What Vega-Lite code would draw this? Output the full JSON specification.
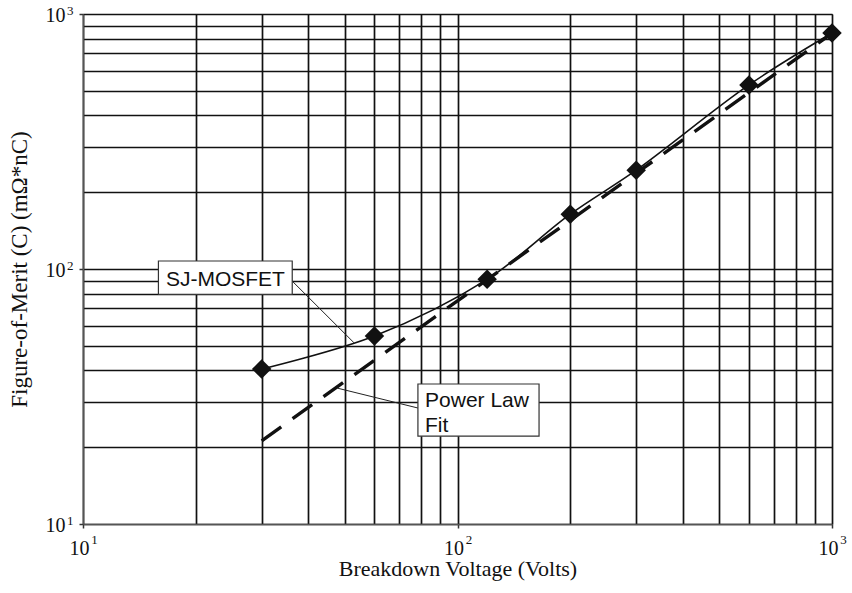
{
  "$schema": "https://vega.github.io/schema/vega-lite/v6.json",
  "autosize": "none",
  "width": 749,
  "height": 510,
  "padding": {"left": 83, "top": 14, "right": 20, "bottom": 69},
  "background": "white",
  "config": {
    "view": {"stroke": "#555", "strokeWidth": 1},
    "axis": {
      "labelFont": "Liberation Serif",
      "titleFont": "Liberation Serif",
      "labelFontSize": 20,
      "titleFontSize": 22,
      "titleFontWeight": "normal",
      "labelColor": "#111",
      "titleColor": "#111",
      "gridColor": "#111",
      "gridWidth": 1.7,
      "gridOpacity": 1,
      "domainColor": "#555",
      "domainWidth": 1.5,
      "tickColor": "#333",
      "tickWidth": 1.5,
      "tickSize": 4,
      "labelFlush": false,
      "labelOverlap": false
    }
  },
  "resolve": {"axis": {"x": "independent", "y": "independent"}},
  "datasets": {
    "sj": [
      {"v": 30, "c": 40.5},
      {"v": 60, "c": 54.6},
      {"v": 120, "c": 91.1},
      {"v": 200, "c": 164},
      {"v": 300, "c": 244},
      {"v": 600, "c": 527},
      {"v": 1000, "c": 842}
    ],
    "fit": [
      {"v": 30, "c": 21.2},
      {"v": 1000, "c": 840}
    ],
    "leaders": [
      {"x1": 36.1, "y1": 90, "x2": 52.9, "y2": 51.4},
      {"x1": 78.4, "y1": 28.5, "x2": 47.8, "y2": 34.1}
    ],
    "boxes": [
      {"x1": 15.9, "x2": 36.2, "y1": 79.6, "y2": 107.5},
      {"x1": 78.4, "x2": 165.1, "y1": 22.1, "y2": 35.4}
    ],
    "labelsC": [
      {"x": 24, "y": 85.8, "text": "SJ-MOSFET"}
    ],
    "labelsL": [
      {"x": 81.9, "y": 28.84, "text": "Power Law"},
      {"x": 81.9, "y": 23.0, "text": "Fit"}
    ]
  },
  "layer": [
    {
      "data": {"name": "sj"},
      "mark": {"type": "line", "color": "#111", "strokeWidth": 1.6, "interpolate": "catmull-rom"},
      "encoding": {
        "x": {
          "field": "v",
          "type": "quantitative",
          "scale": {"type": "log", "domain": [10, 1000], "nice": false},
          "axis": {
            "title": "Breakdown Voltage (Volts)",
            "grid": true,
            "values": [10, 20, 30, 40, 50, 60, 70, 80, 90, 100, 200, 300, 400, 500, 600, 700, 800, 900, 1000],
            "labelExpr": "datum.value == 10 || datum.value == 100 || datum.value == 1000 ? '10' : ''",
            "tickOpacity": {"condition": {"test": "datum.value == 10 || datum.value == 100 || datum.value == 1000", "value": 1}, "value": 0},
            "labelPadding": 10,
            "labelOffset": -4,
            "titlePadding": 0
          }
        },
        "y": {
          "field": "c",
          "type": "quantitative",
          "scale": {"type": "log", "domain": [10, 1000], "nice": false},
          "axis": {
            "title": "Figure-of-Merit (C) (mΩ*nC)",
            "titleFontSize": 23,
            "grid": true,
            "values": [10, 20, 30, 40, 50, 60, 70, 80, 90, 100, 200, 300, 400, 500, 600, 700, 800, 900, 1000],
            "labelExpr": "datum.value == 10 || datum.value == 100 || datum.value == 1000 ? '10' : ''",
            "tickOpacity": {"condition": {"test": "datum.value == 10 || datum.value == 100 || datum.value == 1000", "value": 1}, "value": 0},
            "labelPadding": 14,
            "labelOffset": 1.5,
            "titlePadding": 14
          }
        }
      }
    },
    {
      "data": {"name": "fit"},
      "mark": {"type": "line", "color": "#111", "strokeWidth": 3.4, "strokeDash": [24, 14]},
      "encoding": {
        "x": {
          "field": "v",
          "type": "quantitative",
          "scale": {"type": "log", "domain": [10, 1000], "nice": false},
          "axis": {
            "title": null,
            "grid": false,
            "domain": false,
            "ticks": false,
            "tickSize": 0,
            "orient": "bottom",
            "values": [10, 100, 1000],
            "labelExpr": "datum.value == 10 ? '1' : datum.value == 100 ? '2' : '3'",
            "labelFontSize": 13,
            "labelPadding": 9,
            "labelOffset": 11
          }
        },
        "y": {
          "field": "c",
          "type": "quantitative",
          "scale": {"type": "log", "domain": [10, 1000], "nice": false},
          "axis": {
            "title": null,
            "grid": false,
            "domain": false,
            "ticks": false,
            "tickSize": 0,
            "orient": "left",
            "values": [10, 100, 1000],
            "labelExpr": "datum.value == 10 ? '1' : datum.value == 100 ? '2' : '3'",
            "labelFontSize": 13,
            "labelPadding": 10,
            "labelOffset": -3.3
          }
        }
      }
    },
    {
      "data": {"name": "sj"},
      "mark": {"type": "point", "shape": "diamond", "size": 380, "filled": true, "color": "#111", "opacity": 1},
      "encoding": {
        "x": {"field": "v", "type": "quantitative", "axis": null},
        "y": {"field": "c", "type": "quantitative", "axis": null}
      }
    },
    {
      "data": {"name": "leaders"},
      "mark": {"type": "rule", "color": "#222", "strokeWidth": 1},
      "encoding": {
        "x": {"field": "x1", "type": "quantitative", "axis": null},
        "y": {"field": "y1", "type": "quantitative", "axis": null},
        "x2": {"field": "x2"},
        "y2": {"field": "y2"}
      }
    },
    {
      "data": {"name": "boxes"},
      "mark": {"type": "rect", "fill": "white", "stroke": "#333", "strokeWidth": 1.2},
      "encoding": {
        "x": {"field": "x1", "type": "quantitative", "axis": null},
        "x2": {"field": "x2"},
        "y": {"field": "y1", "type": "quantitative", "axis": null},
        "y2": {"field": "y2"}
      }
    },
    {
      "data": {"name": "labelsC"},
      "mark": {"type": "text", "font": "Liberation Sans", "fontSize": 21, "baseline": "alphabetic", "align": "center", "color": "#111"},
      "encoding": {
        "x": {"field": "x", "type": "quantitative", "axis": null},
        "y": {"field": "y", "type": "quantitative", "axis": null},
        "text": {"field": "text"}
      }
    },
    {
      "data": {"name": "labelsL"},
      "mark": {"type": "text", "font": "Liberation Sans", "fontSize": 21, "baseline": "alphabetic", "align": "left", "color": "#111"},
      "encoding": {
        "x": {"field": "x", "type": "quantitative", "axis": null},
        "y": {"field": "y", "type": "quantitative", "axis": null},
        "text": {"field": "text"}
      }
    }
  ]
}
